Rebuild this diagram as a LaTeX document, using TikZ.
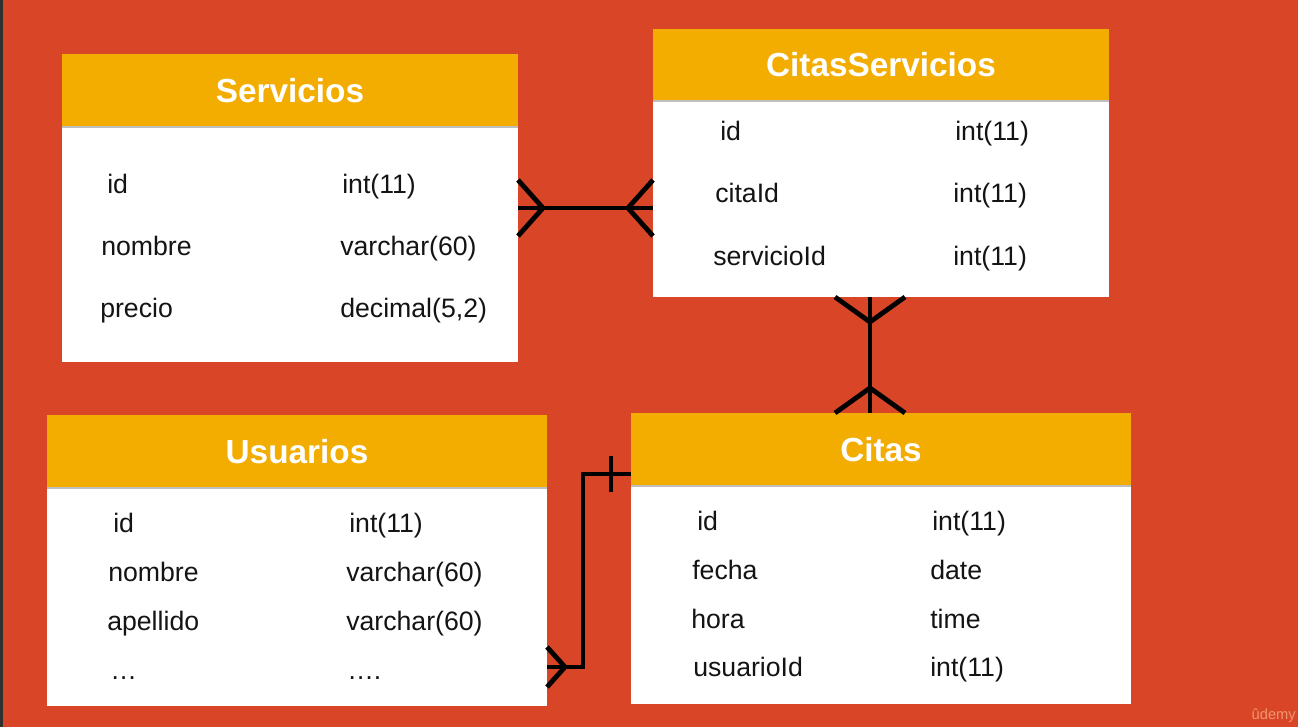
\documentclass[tikz,border=0pt]{standalone}
\usepackage{fontspec}
\setmainfont{Liberation Sans}
\usepackage{tikz}
\usetikzlibrary{positioning,calc}
\definecolor{bgRed}{RGB}{216, 69, 39}
\definecolor{hdrAmber}{RGB}{243, 173, 0}
\definecolor{stripDark}{RGB}{48, 48, 48}
\definecolor{inkBody}{RGB}{20, 20, 20}
\definecolor{wmOrange}{RGB}{240, 150, 110}

\begin{document}
\begin{tikzpicture}[x=0.75pt, y=-0.75pt,
    hdr/.style={fill=hdrAmber, text=white, inner sep=0pt, outer sep=0pt, anchor=north west,
        font=\bfseries\fontsize{25pt}{30pt}\selectfont},
    tbody/.style={fill=white, inner sep=0pt, outer sep=0pt, anchor=north west},
    fld/.style={anchor=west, inner sep=0pt, text=inkBody, text height=14.6pt, text depth=0pt,
        font=\fontsize{20pt}{24pt}\selectfont},
    rel/.style={line width=3.6pt, color=black}]
      % canvas
      \fill[bgRed] (0,0) rectangle (1298,727);
      \fill[stripDark] (0,0) rectangle (3,727);
      \useasboundingbox (0,0) rectangle (1298,727);

      % Servicios
      \node (servBody) [tbody, minimum width=342pt, minimum height=176.25pt] at (62,127) {};
      \node (servHead) [hdr, minimum width=342pt, minimum height=54.75pt] at (62,54) {Servicios};
      \node (servA) [fld] at (107,184) {id};
      \node (servB) [fld] at (101,246) {nombre};
      \node (servC) [fld] at (100,308) {precio};
      \node (servAt) [fld] at (342,184) {int(11)};
      \node (servBt) [fld] at (340,246) {varchar(60)};
      \node (servCt) [fld] at (340,308) {decimal(5,2)};

      % CitasServicios
      \node (csBody) [tbody, minimum width=342pt, minimum height=147pt] at (653,101) {};
      \node (csHead) [hdr, minimum width=342pt, minimum height=54pt] at (653,29) {CitasServicios};
      \node (csA) [fld] at (720,131) {id};
      \node (csB) [fld] at (715,193) {citaId};
      \node (csC) [fld] at (713,256) {servicioId};
      \node (csAt) [fld] at (955,131) {int(11)};
      \node (csBt) [fld] at (953,193) {int(11)};
      \node (csCt) [fld] at (953,256) {int(11)};

      % Usuarios
      \node (usrBody) [tbody, minimum width=375pt, minimum height=163.5pt] at (47,488) {};
      \node (usrHead) [hdr, minimum width=375pt, minimum height=54.75pt] at (47,415) {Usuarios};
      \node (usrA) [fld] at (113,523) {id};
      \node (usrB) [fld] at (108,572) {nombre};
      \node (usrC) [fld] at (107,621) {apellido};
      \node (usrD) [fld] at (110,670) {…};
      \node (usrAt) [fld] at (349,523) {int(11)};
      \node (usrBt) [fld] at (346,572) {varchar(60)};
      \node (usrCt) [fld] at (346,621) {varchar(60)};
      \node (usrDt) [fld] at (347,670) {….};

      % Citas
      \node (citBody) [tbody, minimum width=375pt, minimum height=163.5pt] at (631,486) {};
      \node (citHead) [hdr, minimum width=375pt, minimum height=54.75pt] at (631,413) {Citas};
      \node (citA) [fld] at (697,521) {id};
      \node (citB) [fld] at (692,570) {fecha};
      \node (citC) [fld] at (691,619) {hora};
      \node (citD) [fld] at (693,667) {usuarioId};
      \node (citAt) [fld] at (932,521) {int(11)};
      \node (citBt) [fld] at (930,570) {date};
      \node (citCt) [fld] at (930,619) {time};
      \node (citDt) [fld] at (930,667) {int(11)};

      % header shadow lines
      \foreach \b in {servBody, csBody, usrBody, citBody}
          \draw[black!25, line width=0.8pt] (\b.north west) -- (\b.north east);

      % Servicios >--< CitasServicios
      \draw[rel] (servBody.east |- 0,208) -- (csBody.west |- 0,208);
      \draw[rel] ($(servBody.east |- 0,208)+(0,-28)$) -- ++(25,28) -- ++(-25,28);
      \draw[rel] ($(csBody.west |- 0,208)+(0,-28)$) -- ++(-25,28) -- ++(25,28);

      % CitasServicios >--< Citas
      \draw[rel] (csBody.south -| 870,0) -- (citHead.north -| 870,0);
      \draw[rel] ($(csBody.south -| 870,0)+(-35,0)$) -- ++(35,25) -- ++(35,-25);
      \draw[rel] ($(citHead.north -| 870,0)+(-35,0)$) -- ++(35,-25) -- ++(35,25);

      % Usuarios +--< Citas
      \draw[rel] (citHead.west |- 0,474) -| (583,667) -- (usrBody.east |- 0,667);
      \draw[rel] ($(citHead.west |- 0,474)+(-20,-18)$) -- ++(0,36);
      \draw[rel] ($(usrBody.east |- 0,667)+(0,-20)$) -- ++(18,20) -- ++(-18,20);

      % watermark
      \node (wm) [anchor=east, inner sep=0pt, text=wmOrange, font=\fontsize{11pt}{13pt}\selectfont] at (1296,716) {ûdemy};
  \end{tikzpicture}
\end{document}
